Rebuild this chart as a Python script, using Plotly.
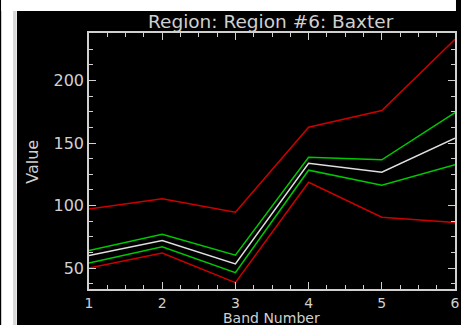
import plotly.graph_objects as go

bands = [1, 2, 3, 4, 5, 6]
red_upper = [97.3, 105.4, 94.7, 162.7, 176.0, 233.0]
green_upper = [64.0, 77.1, 60.3, 138.7, 136.6, 174.4]
mean_vals = [60.0, 72.0, 53.4, 133.9, 126.7, 153.9]
green_lower = [54.0, 67.0, 46.4, 128.3, 116.3, 132.6]
red_lower = [50.0, 62.0, 38.4, 118.7, 90.7, 86.4]

y_ticks = [50, 100, 150, 200]
x_ticks = [1, 2, 3, 4, 5, 6]

title = "Region: Region #6: Baxter"
x_title = "Band Number"
y_title = "Value"

RED = "#cc0000"
GREEN = "#00c800"
WHITE = "#e0e0e0"
AX = "#d0d0d0"
FONT = "DejaVu Sans"

fig = go.Figure()
for vals, col in [(red_upper, RED), (green_upper, GREEN), (mean_vals, WHITE),
                  (green_lower, GREEN), (red_lower, RED)]:
    fig.add_trace(go.Scatter(x=bands, y=vals, mode="lines",
                             line=dict(color=col, width=1.5), showlegend=False,
                             hoverinfo="skip"))

W, H = 461, 325
L, R, T, B = 89, 1, 33, 36
pw, ph = W - L - R, H - T - B

def px(xp):
    return (xp - L) / pw

def py(yp):
    return (H - B - yp) / ph

axis_common = dict(showgrid=False, zeroline=False, showline=True, linecolor=AX,
                   linewidth=1.5, mirror="ticks", ticks="inside", tickcolor=AX,
                   tickwidth=1)

fig.update_xaxes(range=[1, 6], tickvals=x_ticks, ticklen=7, ticklabeloverflow="allow",
                 tickfont=dict(family=FONT, size=14, color=AX),
                 minor=dict(ticks="inside", ticklen=4, dtick=0.25, tickcolor=AX, tickwidth=1),
                 **axis_common)
fig.update_yaxes(range=[33.3, 238], tickvals=y_ticks, ticklen=7,
                 tickfont=dict(family=FONT, size=16, color=AX),
                 minor=dict(ticks="inside", ticklen=4, dtick=12.5, tick0=0, tickcolor=AX, tickwidth=1),
                 **axis_common)

shapes = [
    dict(type="rect", xref="paper", yref="paper", x0=px(0), x1=px(16), y0=py(0), y1=py(H),
         fillcolor="white", line=dict(width=0), layer="below"),
    dict(type="rect", xref="paper", yref="paper", x0=px(0), x1=px(W), y0=py(0), y1=py(11),
         fillcolor="white", line=dict(width=0), layer="below"),
    dict(type="rect", xref="paper", yref="paper", x0=px(12), x1=px(15.5), y0=py(11), y1=py(H),
         fillcolor="#d8d8d8", line=dict(width=0), layer="below"),
]

annotations = [
    dict(text=title, xref="paper", yref="paper", x=px(273.5), y=py(21.5), showarrow=False,
         xanchor="center", yanchor="middle", font=dict(family=FONT, size=18.5, color=AX)),
    dict(text=x_title, xref="paper", yref="paper", x=px(273.5), y=py(317.5), showarrow=False,
         xanchor="center", yanchor="middle", font=dict(family=FONT, size=14, color=AX)),
    dict(text=y_title, xref="paper", yref="paper", x=px(31.5), y=py(161.5), showarrow=False,
         xanchor="center", yanchor="middle", textangle=-90,
         font=dict(family=FONT, size=16, color=AX)),
]

fig.update_layout(width=W, height=H, margin=dict(l=L, r=R, t=T, b=B, pad=0),
                  paper_bgcolor="black", plot_bgcolor="black",
                  shapes=shapes, annotations=annotations)

fig.write_html("out.html")
